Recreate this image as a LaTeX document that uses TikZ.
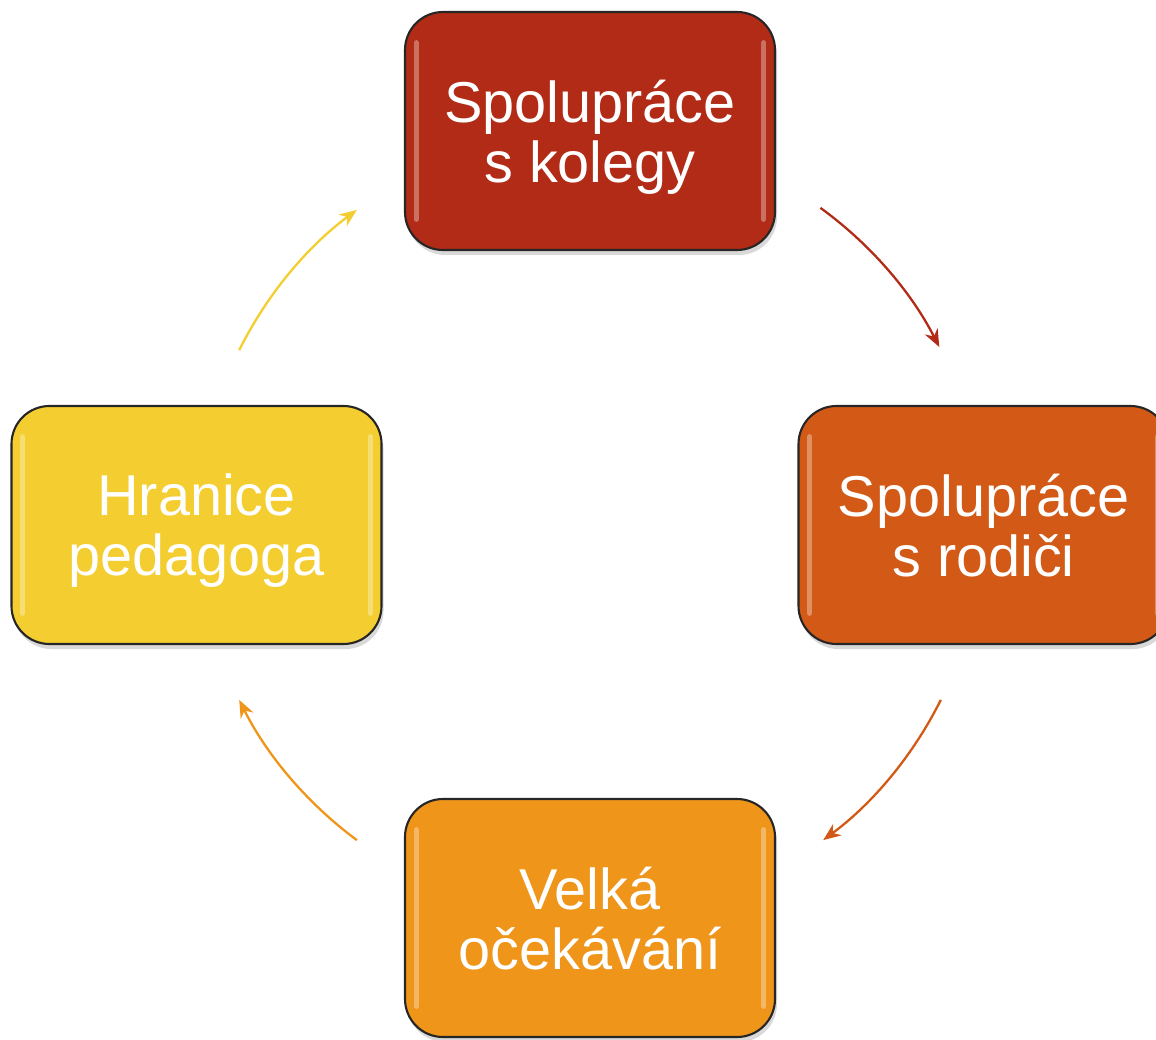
\documentclass[tikz,border=0pt]{standalone}
\usepackage{fontspec}
\setmainfont{Liberation Sans}
\usepackage{tikz}
\usetikzlibrary{shadows,arrows.meta}
\definecolor{cervena}{RGB}{178,43,22}
\definecolor{oranzova}{RGB}{210,90,22}
\definecolor{zluta}{RGB}{238,149,26}
\definecolor{zlutasv}{RGB}{244,206,48}

\begin{document}
\begin{tikzpicture}[
	box/.style={draw=black!85, line width=0.6pt, rounded corners=0.38cm,
		minimum width=3.7cm, minimum height=2.38cm, text=white, align=center,
		font=\fontsize{16.4}{17.1}\selectfont, text depth=0pt,
		drop shadow={shadow xshift=0.02cm, shadow yshift=-0.05cm, opacity=0.3}},
	sipka/.style={line width=0.65pt, -{Stealth[length=5pt,width=4pt]}}]
	\useasboundingbox (0,0) rectangle (11.56,10.39);
	%\draw[gray] (0,0) grid (12,11);
	\coordinate (stred) at (5.90,5.14);
	\node[box, fill=cervena] (kolegy) at (5.90,9.08) {Spolupráce\\s kolegy};
	\node[box, fill=oranzova] (rodici) at (9.835,5.14) {Spolupráce\\s rodiči};
	\node[box, fill=zluta] (ocekavani) at (5.90,1.21) {Velká\\očekávání};
	\node[box, fill=zlutasv] (hranice) at (1.965,5.14) {Hranice\\pedagoga};
	% lesk na okrajich
	\foreach \n/\c in {kolegy/cervena,rodici/oranzova,ocekavani/zluta,hranice/zlutasv}{
		\draw[\c!45!white, line width=1.4pt, line cap=round, opacity=0.6]
			([xshift=3.5pt,yshift=-9pt]\n.north west) -- ([xshift=3.5pt,yshift=9pt]\n.south west);
		\draw[\c!45!white, line width=1.4pt, line cap=round, opacity=0.6]
			([xshift=-3.5pt,yshift=-9pt]\n.north east) -- ([xshift=-3.5pt,yshift=9pt]\n.south east);
	}
	% sipky po kruhu
	\draw[sipka, cervena] ([shift={(54:3.92)}]stred) arc[start angle=54, end angle=27, radius=3.92];
	\draw[sipka, oranzova] ([shift={(-26.5:3.92)}]stred) arc[start angle=-26.5, end angle=-53.5, radius=3.92];
	\draw[sipka, zluta] ([shift={(-126.5:3.92)}]stred) arc[start angle=-126.5, end angle=-153.5, radius=3.92];
	\draw[sipka, zlutasv] ([shift={(153.5:3.92)}]stred) arc[start angle=153.5, end angle=126.5, radius=3.92];
\end{tikzpicture}
\end{document}
